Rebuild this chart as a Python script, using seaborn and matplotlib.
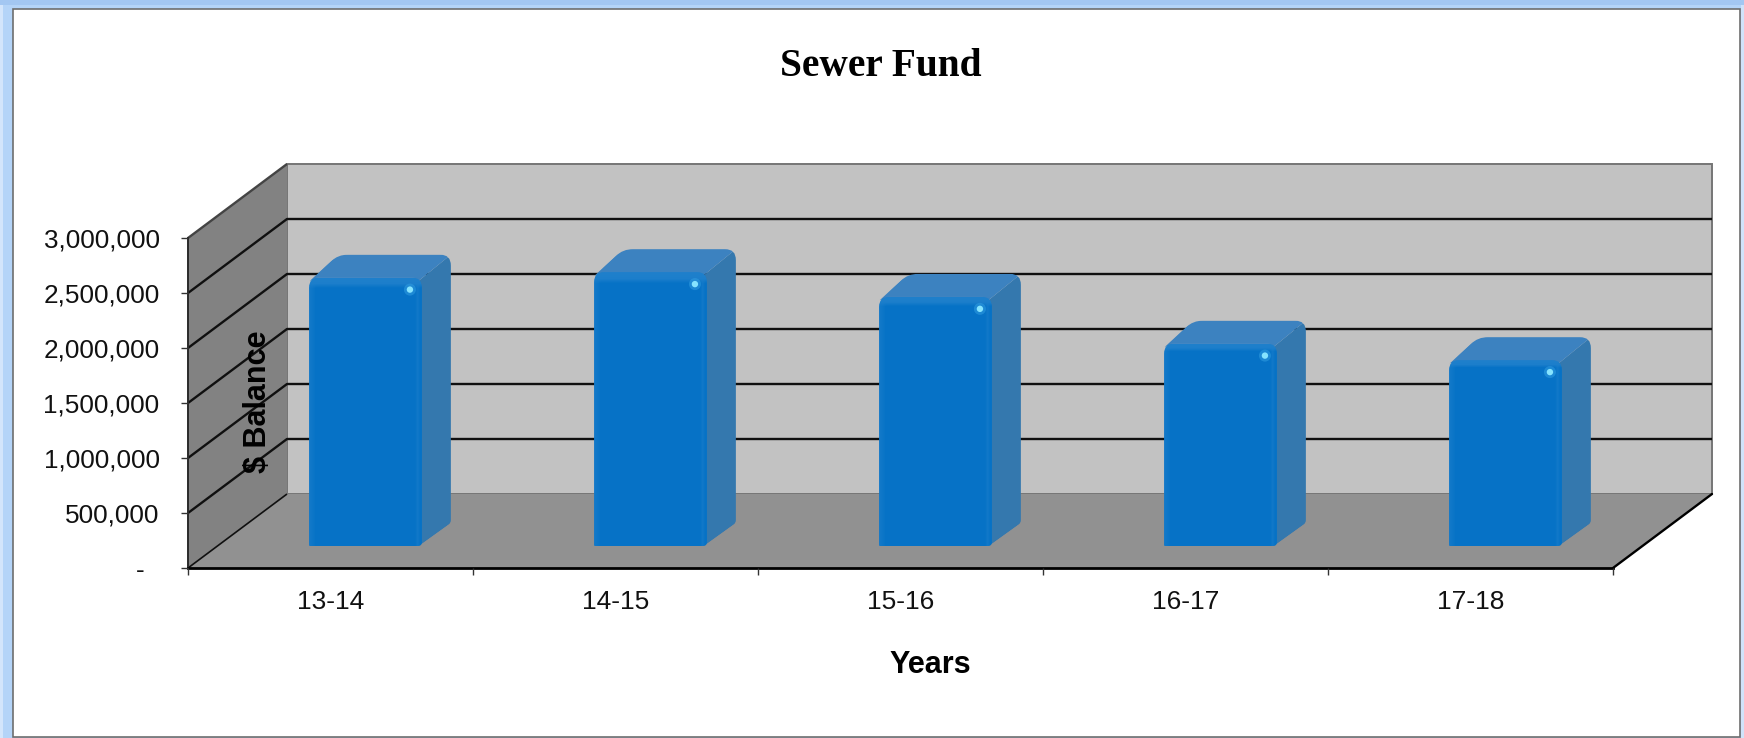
import numpy as np
import matplotlib
matplotlib.use("Agg")
import matplotlib.pyplot as plt
import seaborn as sns
from matplotlib.patches import PathPatch, Polygon, Rectangle, Circle
from matplotlib.path import Path
from matplotlib.transforms import Affine2D, IdentityTransform

# ========== DATA ==========
years = ["13-14", "14-15", "15-16", "16-17", "17-18"]
balances = [2440000, 2490000, 2265000, 1840000, 1690000]
y_ticks = [0, 500000, 1000000, 1500000, 2000000, 2500000, 3000000]
y_tick_labels = ["-", "500,000", "1,000,000", "1,500,000", "2,000,000", "2,500,000", "3,000,000"]

# ========== STYLE ==========
W, H = 1744, 738
DEPTH_X, DEPTH_Y = 99, 74      # chart box depth, pixels
BAR_SHIFT = (35, 22)           # bars stand part way back on the floor
BAR_DX, BAR_DY = 29, 23        # bar depth, pixels
FRONT = "#0672c6"
SIDE = "#3478ae"
TOP = "#3c82c0"

sns.set_theme(style="white")
plt.rcParams["font.family"] = ["Liberation Sans", "DejaVu Sans"]

fig = plt.figure(figsize=(W / 100, H / 100), dpi=100, facecolor="#b4d4f8")
fig.patches.append(Rectangle((0, 0), 3 / W, 1, transform=fig.transFigure,
                             facecolor="#d3e5fb", edgecolor="none", zorder=-3))
fig.patches.append(Rectangle((1741 / W, 0), 3 / W, 1, transform=fig.transFigure,
                             facecolor="#d0e3fa", edgecolor="none", zorder=-3))
fig.patches.append(Rectangle((0, 733 / H), 1, 5 / H, transform=fig.transFigure,
                             facecolor="#a3c7f2", edgecolor="none", zorder=-3))
fig.patches.append(Rectangle((12.5 / W, 1 / H), 1727.5 / W, 728 / H, transform=fig.transFigure,
                             facecolor="white", edgecolor="#6e6e6e", lw=1.2, zorder=-2))

ax = fig.add_axes([188 / W, (H - 568) / H, 1425 / W, 330 / H])
ax.patch.set_alpha(0)
ax.set_axisbelow(False)

sns.barplot(x=years, y=balances, color=FRONT, saturation=1, width=0.396, ax=ax, zorder=5)
ax.set_xlim(-0.5, len(years) - 0.5)
ax.set_ylim(0, y_ticks[-1])


def px(x, v):
    return ax.transData.transform((x, v))


def rounded(points, radii):
    # closed path through points with the corners cut by quadratic curves
    pts = [np.array(p, dtype=float) for p in points]
    verts, codes = [], []
    n = len(pts)
    for i, (p, r) in enumerate(zip(pts, radii)):
        a = pts[i - 1] - p
        b = pts[(i + 1) % n] - p
        a_pt = p + a / np.linalg.norm(a) * r
        b_pt = p + b / np.linalg.norm(b) * r
        verts.append(a_pt)
        codes.append(Path.MOVETO if i == 0 else Path.LINETO)
        verts += [p, b_pt]
        codes += [Path.CURVE3, Path.CURVE3]
    verts.append(verts[0])
    codes.append(Path.CLOSEPOLY)
    return Path(verts, codes)


def poly(points, color, z, **kw):
    patch = Polygon(points, closed=True, facecolor=color, edgecolor=kw.pop("edgecolor", "none"),
                    transform=IdentityTransform(), clip_on=False, zorder=z, **kw)
    ax.add_patch(patch)
    return patch


x0, x1 = ax.get_xlim()
y_top = y_ticks[-1]
back = np.array([DEPTH_X, DEPTH_Y])

# ========== WALLS AND FLOOR ==========
poly([px(x0, 0) + back, px(x1, 0) + back, px(x1, y_top) + back, px(x0, y_top) + back], "#c2c2c2", 0.5,
     edgecolor="#757575", lw=1.4)
poly([px(x0, 0), px(x0, 0) + back, px(x0, y_top) + back, px(x0, y_top)], "#828282", 0.6)
poly([px(x0, 0), px(x1, 0), px(x1, 0) + back, px(x0, 0) + back], "#919191", 0.7)

# gridlines run up the side wall, then along the back wall
for v in y_ticks:
    a = px(x0, v)
    pts = np.array([a, a + back, px(x1, v) + back])
    if v == 0 or v == y_top:
        pts = pts[:2]
    ax.plot(pts[:, 0], pts[:, 1], color="#101010" if v < y_top else "#444444", lw=1.7 if 0 < v else 1.2,
            transform=IdentityTransform(), clip_on=False, zorder=1, solid_capstyle="butt")
a = px(x1, 0)
ax.plot([a[0], a[0] + DEPTH_X], [a[1], a[1] + DEPTH_Y], color="#000000", lw=1.7,
        transform=IdentityTransform(), clip_on=False, zorder=1)

# ========== 3D BARS ==========
shift = ax.transData + Affine2D().translate(*BAR_SHIFT)
shade = np.zeros((60, 40, 4))
shade[..., :3] = 1
row_alpha = np.interp(np.arange(60), [0, 1, 2, 59], [0.10, 0.09, 0.0, 0.0])
col_alpha = np.interp(np.arange(40), [0, 1, 2, 37, 38, 39], [0.05, 0.03, 0.0, 0.0, 0.05, 0.0])
shade[..., 3] = np.maximum(row_alpha[:, None], col_alpha[None, :])

for bar in ax.patches[:len(years)]:
    left = bar.get_x()
    right = left + bar.get_width()
    l, b = shift.transform((left, 0))
    r, t = shift.transform((right, bar.get_height()))

    # side and top faces share one rounded outline
    outline = rounded([(l, t - 4), (l + BAR_DX, t + BAR_DY), (r + BAR_DX, t + BAR_DY),
                       (r + BAR_DX, b + BAR_DY), (r - 3, b)], [1, 10, 11, 3, 1])
    side = poly([(r - 3, b), (r + BAR_DX, b + BAR_DY), (r + BAR_DX, t + BAR_DY), (r - 3, t - 3)], SIDE, 4)
    top = poly([(l, t - 3), (l + BAR_DX, t + BAR_DY), (r + BAR_DX, t + BAR_DY), (r - 3, t - 3)], TOP, 4)
    for face in (side, top):
        face.set_clip_on(True)
        face.set_clip_path(outline, IdentityTransform())

    front = rounded([(l, b), (r, b), (r, t), (l, t)], [1, 4, 10, 10])
    bar.set_transform(shift)
    bar.set_clip_on(True)
    bar.set_clip_path(front, IdentityTransform())
    bar.set_edgecolor("none")

    im = ax.imshow(shade, extent=(l, r, b, t), aspect="auto", transform=IdentityTransform(),
                   interpolation="bilinear", zorder=6)
    im.set_clip_path(front, IdentityTransform())

    # specular spot near the top corner
    ax.add_patch(Circle((r - 12, t - 12), 6, facecolor="#3aa6e6", alpha=0.45, edgecolor="none",
                        transform=IdentityTransform(), clip_on=False, zorder=7))
    ax.add_patch(Circle((r - 12, t - 12), 3.2, facecolor="#86e4ff", edgecolor="none",
                        transform=IdentityTransform(), clip_on=False, zorder=8))

ax.set_xlim(x0, x1)
ax.set_ylim(0, y_top)

# ========== AXES ==========
for name in ["top", "right"]:
    ax.spines[name].set_visible(False)
ax.spines["bottom"].set_color("#000000")
ax.spines["bottom"].set_linewidth(2.0)
ax.spines["left"].set_color("#2a2a2a")
ax.spines["left"].set_linewidth(1.4)

ax.set_yticks(y_ticks)
ax.set_yticklabels(y_tick_labels, fontsize=18.8, color="#111111")
ax.tick_params(axis="y", length=5, width=1, color="#333333", pad=15.5, left=True)
ax.set_xticks(np.arange(len(years) + 1) - 0.5, minor=True)
ax.tick_params(axis="x", which="minor", length=5, width=1, color="#333333", bottom=True)
ax.tick_params(axis="x", which="major", length=0, pad=16, labelsize=19, labelcolor="#111111")
zero_label = ax.get_yticklabels()[0]
zero_label.set_transform(zero_label.get_transform() + Affine2D().translate(-15, 0))

ax.set_xlabel("Years", fontsize=22, fontweight="bold", color="#000000", labelpad=0)
ax.xaxis.set_label_coords((930 - 188) / 1425, (568 - 665) / 330)
ax.xaxis.label.set_verticalalignment("center")
ax.set_ylabel("$ Balance", fontsize=22, fontweight="bold", color="#000000")
ax.yaxis.set_label_coords((258 - 188) / 1425, (568 - 402) / 330)
ax.yaxis.label.set_verticalalignment("center")

fig.text(881 / W, (H - 67) / H, "Sewer Fund", family="Liberation Serif", fontweight="bold",
         fontsize=28.4, color="#000000", ha="center", va="center")

fig.savefig("out.png", dpi=100, facecolor=fig.get_facecolor())
plt.close(fig)
